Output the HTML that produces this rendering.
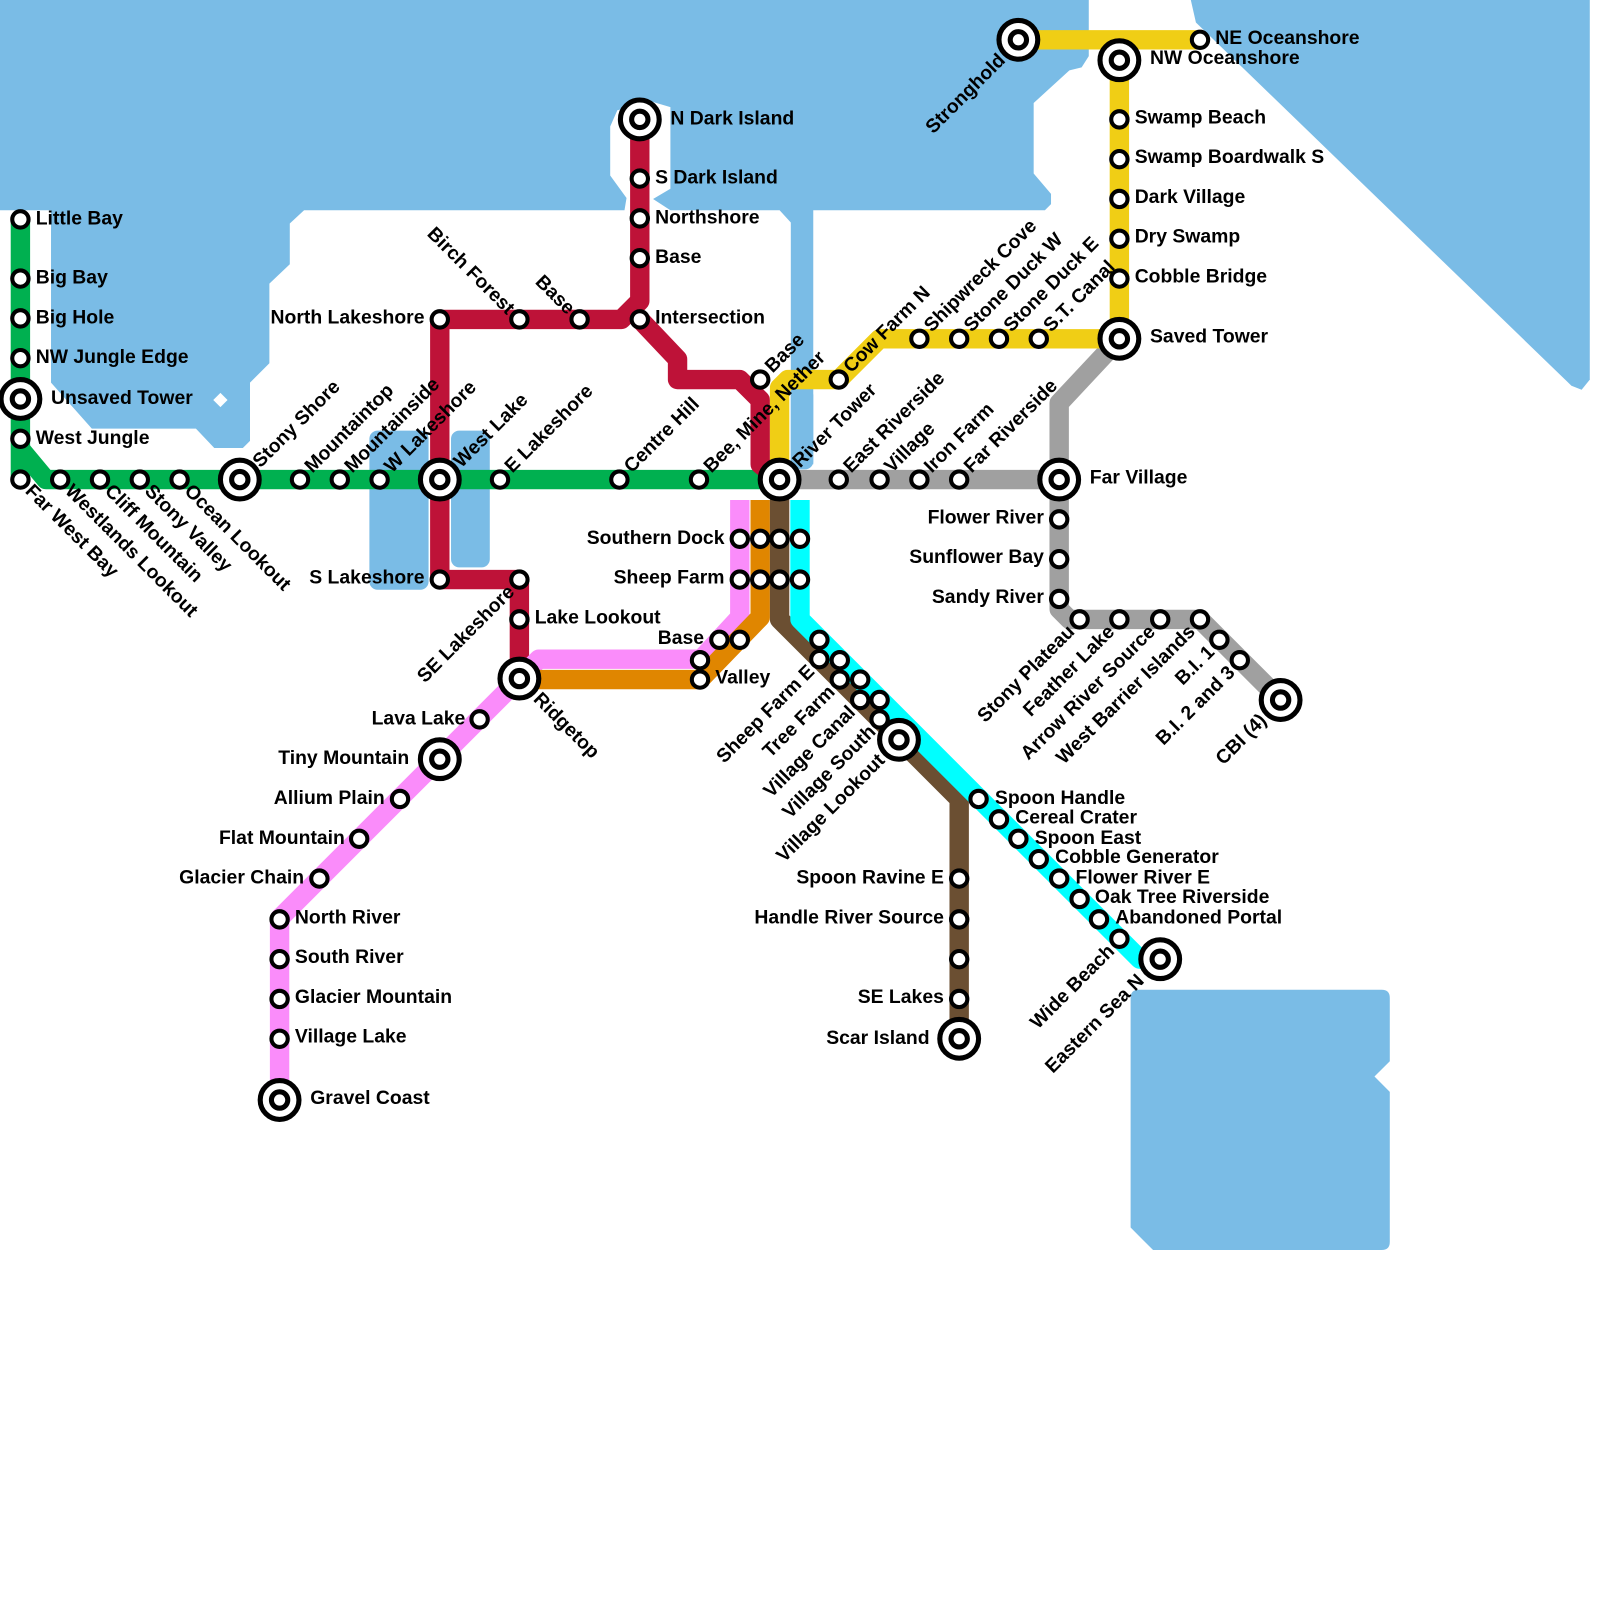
<!DOCTYPE html>
<html><head><meta charset="utf-8"><style>
html,body{margin:0;padding:0;background:#fff}
svg{display:block}
.w{fill:#7abce6}
.l{fill:none;stroke-width:19;stroke-linejoin:round;stroke-linecap:butt}
.s{fill:#fff;stroke:#000;stroke-width:4}
.io{fill:#fff;stroke:#000;stroke-width:5}
.ii{fill:#fff;stroke:#000;stroke-width:5}
text{font-family:"Liberation Sans",Arial,sans-serif;font-weight:bold;font-size:19px;fill:#000;dominant-baseline:central}
.e{text-anchor:end}
</style></head><body>
<svg width="1600" height="1600" viewBox="0 0 1568 1568" xmlns="http://www.w3.org/2000/svg">
<path class="w" d="M0,0 L1067,0 L1067,55 L1060,66 L1048,69 L1013,101 L1013,170 L1030,190 L1030,200 L1024,206 L797,206 L797,455 L775,455 L775,218 L764,206 L657,206 L640,195 L657,185 L657,105 L640,100 L605,108 L598,124 L598,172 L614,194 L612,206 L298,206 L284,219 L284,259 L264,278 L264,356 L245,375 L245,432 L238,439 L210,439 L192,420 L90,420 L50,375 L50,206 L0,206 Z"/>
<rect class="w" x="775" y="380" width="22" height="80" rx="8"/>
<path class="w" d="M1167,0 L1558,0 L1558,372 L1550,382 L1540,378 L1172,22 Z"/>
<path class="w" d="M1116,970 L1354,970 Q1362,970 1362,978 L1362,1040 L1347,1055 L1362,1070 L1362,1217 Q1362,1225 1354,1225 L1130,1225 L1108,1203 L1108,978 Q1108,970 1116,970 Z"/>
<rect class="w" x="362" y="422" width="58" height="156" rx="8"/>
<rect class="w" x="442" y="422" width="38" height="134" rx="8"/>
<polygon points="216,385 223,392 216,399 209,392" fill="#fff"/>
<polyline class="l" stroke="#00b050" points="20,215 20,470"/>
<polyline class="l" stroke="#00b050" points="20,440 45,470 764,470"/>
<polyline class="l" stroke="#be1238" points="627,117 627,295 609,313 431,313 431,568 509,568 509,665"/>
<polyline class="l" stroke="#be1238" points="627,313 664,352 664,372 725,372 745,392 745,455 764,470"/>
<polyline class="l" stroke="#a0a0a0" points="764,470 1038,470 1038,597 1048,607 1176,607 1255,686"/>
<polyline class="l" stroke="#a0a0a0" points="1038,470 1038,395 1097,332"/>
<polyline class="l" stroke="#f0ce15" points="998,39 1176,39"/>
<polyline class="l" stroke="#f0ce15" points="1097,59 1097,332 862,332 822,372 772,372 764,380 764,470"/>
<polyline class="l" stroke="#fa8cfa" points="725,490 725,605 687,646 528,646 509,665 274,900 274,1078"/>
<polyline class="l" stroke="#e08600" points="745,490 745,605 686,666 509,666"/>
<polyline class="l" stroke="#6b4f32" points="764,470 764,607 940,783 940,1018"/>
<polyline class="l" stroke="#00ffff" points="784,490 784,607 1117,940 1137,940"/>
<g class="s">
<circle cx="20" cy="215" r="8"/><circle cx="20" cy="273" r="8"/><circle cx="20" cy="312" r="8"/><circle cx="20" cy="351" r="8"/><circle cx="20" cy="430" r="8"/>
<circle cx="20" cy="470" r="8"/><circle cx="59" cy="470" r="8"/><circle cx="98" cy="470" r="8"/><circle cx="137" cy="470" r="8"/><circle cx="176" cy="470" r="8"/>
<circle cx="294" cy="470" r="8"/><circle cx="333" cy="470" r="8"/><circle cx="372" cy="470" r="8"/><circle cx="490" cy="470" r="8"/><circle cx="607" cy="470" r="8"/><circle cx="685" cy="470" r="8"/>
<circle cx="627" cy="175" r="8"/><circle cx="627" cy="214" r="8"/><circle cx="627" cy="253" r="8"/><circle cx="627" cy="313" r="8"/>
<circle cx="431" cy="313" r="8"/><circle cx="509" cy="313" r="8"/><circle cx="568" cy="313" r="8"/><circle cx="745" cy="372" r="8"/>
<circle cx="431" cy="568" r="8"/><circle cx="509" cy="568" r="8"/><circle cx="509" cy="607" r="8"/>
<circle cx="470" cy="705" r="8"/><circle cx="392" cy="783" r="8"/><circle cx="352" cy="822" r="8"/><circle cx="313" cy="861" r="8"/>
<circle cx="274" cy="901" r="8"/><circle cx="274" cy="940" r="8"/><circle cx="274" cy="979" r="8"/><circle cx="274" cy="1018" r="8"/>
<circle cx="725" cy="528" r="8"/><circle cx="745" cy="528" r="8"/><circle cx="764" cy="528" r="8"/><circle cx="784" cy="528" r="8"/>
<circle cx="725" cy="568" r="8"/><circle cx="745" cy="568" r="8"/><circle cx="764" cy="568" r="8"/><circle cx="784" cy="568" r="8"/>
<circle cx="705" cy="627" r="8"/><circle cx="725" cy="627" r="8"/><circle cx="686" cy="647" r="8"/><circle cx="686" cy="666" r="8"/>
<circle cx="803" cy="627" r="8"/><circle cx="823" cy="647" r="8"/><circle cx="843" cy="666" r="8"/><circle cx="862" cy="686" r="8"/>
<circle cx="803" cy="646" r="8"/><circle cx="823" cy="666" r="8"/><circle cx="843" cy="686" r="8"/><circle cx="862" cy="705" r="8"/>
<circle cx="940" cy="861" r="8"/><circle cx="940" cy="901" r="8"/><circle cx="940" cy="940" r="8"/><circle cx="940" cy="979" r="8"/>
<circle cx="959" cy="783" r="8"/><circle cx="979" cy="803" r="8"/><circle cx="998" cy="822" r="8"/><circle cx="1018" cy="842" r="8"/><circle cx="1038" cy="861" r="8"/><circle cx="1058" cy="881" r="8"/><circle cx="1077" cy="901" r="8"/><circle cx="1097" cy="920" r="8"/>
<circle cx="822" cy="470" r="8"/><circle cx="862" cy="470" r="8"/><circle cx="901" cy="470" r="8"/><circle cx="940" cy="470" r="8"/>
<circle cx="1038" cy="509" r="8"/><circle cx="1038" cy="548" r="8"/><circle cx="1038" cy="587" r="8"/>
<circle cx="1058" cy="607" r="8"/><circle cx="1097" cy="607" r="8"/><circle cx="1137" cy="607" r="8"/><circle cx="1176" cy="607" r="8"/><circle cx="1195" cy="627" r="8"/><circle cx="1215" cy="647" r="8"/>
<circle cx="822" cy="372" r="8"/><circle cx="901" cy="332" r="8"/><circle cx="940" cy="332" r="8"/><circle cx="979" cy="332" r="8"/><circle cx="1018" cy="332" r="8"/>
<circle cx="1176" cy="39" r="8"/><circle cx="1097" cy="117" r="8"/><circle cx="1097" cy="156" r="8"/><circle cx="1097" cy="195" r="8"/><circle cx="1097" cy="234" r="8"/><circle cx="1097" cy="273" r="8"/>
</g>
<g>
<g transform="translate(20,391)"><circle class="io" r="19"/><circle class="ii" r="8"/></g>
<g transform="translate(235,470)"><circle class="io" r="19"/><circle class="ii" r="8"/></g>
<g transform="translate(431,470)"><circle class="io" r="19"/><circle class="ii" r="8"/></g>
<g transform="translate(764,470)"><circle class="io" r="19"/><circle class="ii" r="8"/></g>
<g transform="translate(627,117)"><circle class="io" r="19"/><circle class="ii" r="8"/></g>
<g transform="translate(509,665)"><circle class="io" r="19"/><circle class="ii" r="8"/></g>
<g transform="translate(431,744)"><circle class="io" r="19"/><circle class="ii" r="8"/></g>
<g transform="translate(274,1078)"><circle class="io" r="19"/><circle class="ii" r="8"/></g>
<g transform="translate(881,725)"><circle class="io" r="19"/><circle class="ii" r="8"/></g>
<g transform="translate(940,1018)"><circle class="io" r="19"/><circle class="ii" r="8"/></g>
<g transform="translate(1137,940)"><circle class="io" r="19"/><circle class="ii" r="8"/></g>
<g transform="translate(1255,686)"><circle class="io" r="19"/><circle class="ii" r="8"/></g>
<g transform="translate(1038,470)"><circle class="io" r="19"/><circle class="ii" r="8"/></g>
<g transform="translate(1097,332)"><circle class="io" r="19"/><circle class="ii" r="8"/></g>
<g transform="translate(1097,59)"><circle class="io" r="19"/><circle class="ii" r="8"/></g>
<g transform="translate(998,39)"><circle class="io" r="19"/><circle class="ii" r="8"/></g>
</g>
<text x="35" y="214">Little Bay</text>
<text x="35" y="272">Big Bay</text>
<text x="35" y="311">Big Hole</text>
<text x="35" y="350">NW Jungle Edge</text>
<text x="50" y="390">Unsaved Tower</text>
<text x="35" y="429">West Jungle</text>
<text x="657" y="116">N Dark Island</text>
<text x="642" y="174">S Dark Island</text>
<text x="642" y="213">Northshore</text>
<text x="642" y="252">Base</text>
<text x="642" y="311">Intersection</text>
<text class="e" x="416" y="311">North Lakeshore</text>
<text class="e" x="416" y="566">S Lakeshore</text>
<text x="524" y="605">Lake Lookout</text>
<text class="e" x="456" y="704">Lava Lake</text>
<text class="e" x="401" y="743">Tiny Mountain</text>
<text class="e" x="377" y="782">Allium Plain</text>
<text class="e" x="338" y="821">Flat Mountain</text>
<text class="e" x="298" y="860">Glacier Chain</text>
<text x="289" y="899">North River</text>
<text x="289" y="938">South River</text>
<text x="289" y="977">Glacier Mountain</text>
<text x="289" y="1016">Village Lake</text>
<text x="304" y="1076">Gravel Coast</text>
<text class="e" x="710" y="527">Southern Dock</text>
<text class="e" x="710" y="566">Sheep Farm</text>
<text class="e" x="690" y="625">Base</text>
<text x="701" y="664">Valley</text>
<text class="e" x="925" y="860">Spoon Ravine E</text>
<text class="e" x="925" y="899">Handle River Source</text>
<text class="e" x="925" y="977">SE Lakes</text>
<text class="e" x="911" y="1017">Scar Island</text>
<text x="975" y="782">Spoon Handle</text>
<text x="995" y="801">Cereal Crater</text>
<text x="1014" y="821">Spoon East</text>
<text x="1034" y="840">Cobble Generator</text>
<text x="1054" y="860">Flower River E</text>
<text x="1073" y="879">Oak Tree Riverside</text>
<text x="1093" y="899">Abandoned Portal</text>
<text x="1068" y="468">Far Village</text>
<text class="e" x="1023" y="507">Flower River</text>
<text class="e" x="1023" y="546">Sunflower Bay</text>
<text class="e" x="1023" y="585">Sandy River</text>
<text x="1127" y="330">Saved Tower</text>
<text x="1191" y="37">NE Oceanshore</text>
<text x="1127" y="57">NW Oceanshore</text>
<text x="1112" y="115">Swamp Beach</text>
<text x="1112" y="154">Swamp Boardwalk S</text>
<text x="1112" y="193">Dark Village</text>
<text x="1112" y="232">Dry Swamp</text>
<text x="1112" y="271">Cobble Bridge</text>
<g>
<text transform="translate(251,455) rotate(-45)">Stony Shore</text>
<text transform="translate(302,460) rotate(-45)">Mountaintop</text>
<text transform="translate(341,460) rotate(-45)">Mountainside</text>
<text transform="translate(380,460) rotate(-45)">W Lakeshore</text>
<text transform="translate(448,455) rotate(-45)">West Lake</text>
<text transform="translate(498,460) rotate(-45)">E Lakeshore</text>
<text transform="translate(615,460) rotate(-45)">Centre Hill</text>
<text transform="translate(693,460) rotate(-45)">Bee, Mine, Nether</text>
<text transform="translate(780,455) rotate(-45)">River Tower</text>
<text transform="translate(753,362) rotate(-45)">Base</text>
<text transform="translate(830,362) rotate(-45)">Cow Farm N</text>
<text transform="translate(909,322) rotate(-45)">Shipwreck Cove</text>
<text transform="translate(948,322) rotate(-45)">Stone Duck W</text>
<text transform="translate(987,322) rotate(-45)">Stone Duck E</text>
<text transform="translate(1026,322) rotate(-45)">S.T. Canal</text>
<text transform="translate(830,460) rotate(-45)">East Riverside</text>
<text transform="translate(870,460) rotate(-45)">Village</text>
<text transform="translate(909,460) rotate(-45)">Iron Farm</text>
<text transform="translate(948,460) rotate(-45)">Far Riverside</text>
</g>
<g>
<text transform="translate(28,478) rotate(45)">Far West Bay</text>
<text transform="translate(67,478) rotate(45)">Westlands Lookout</text>
<text transform="translate(106,478) rotate(45)">Cliff Mountain</text>
<text transform="translate(145,478) rotate(45)">Stony Valley</text>
<text transform="translate(184,478) rotate(45)">Ocean Lookout</text>
<text transform="translate(526,682) rotate(45)">Ridgetop</text>
</g>
<g>
<text class="e" transform="translate(501,305) rotate(45)">Birch Forest</text>
<text class="e" transform="translate(560,305) rotate(45)">Base</text>
</g>
<g>
<text class="e" transform="translate(501,577) rotate(-45)">SE Lakeshore</text>
<text class="e" transform="translate(795,655) rotate(-45)">Sheep Farm E</text>
<text class="e" transform="translate(815,675) rotate(-45)">Tree Farm</text>
<text class="e" transform="translate(835,695) rotate(-45)">Village Canal</text>
<text class="e" transform="translate(855,714) rotate(-45)">Village South</text>
<text class="e" transform="translate(864,742) rotate(-45)">Village Lookout</text>
<text class="e" transform="translate(1089,929) rotate(-45)">Wide Beach</text>
<text class="e" transform="translate(1118,958) rotate(-45)">Eastern Sea N</text>
<text class="e" transform="translate(1050,616) rotate(-45)">Stony Plateau</text>
<text class="e" transform="translate(1089,616) rotate(-45)">Feather Lake</text>
<text class="e" transform="translate(1129,616) rotate(-45)">Arrow River Source</text>
<text class="e" transform="translate(1168,616) rotate(-45)">West Barrier Islands</text>
<text class="e" transform="translate(1187,636) rotate(-45)">B.I. 1</text>
<text class="e" transform="translate(1207,656) rotate(-45)">B.I. 2 and 3</text>
<text class="e" transform="translate(1238,703) rotate(-45)">CBI (4)</text>
<text class="e" transform="translate(982,56) rotate(-45)">Stronghold</text>
</g>
</svg>
</body></html>
